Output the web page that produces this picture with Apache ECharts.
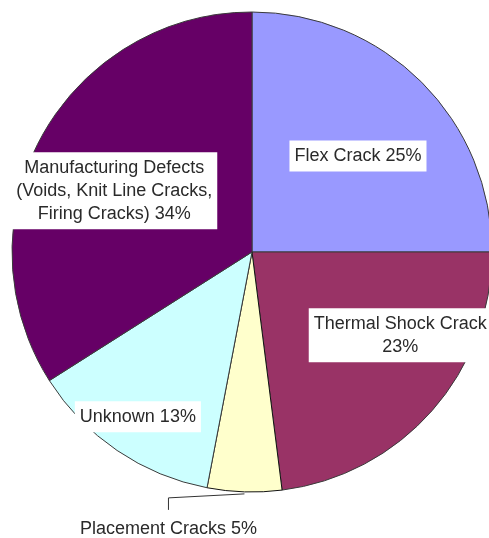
<!DOCTYPE html>
<html>
<head>
<meta charset="utf-8">
<script src="https://cdn.jsdelivr.net/npm/echarts@6/dist/echarts.min.js"></script>
<style>
html,body{margin:0;padding:0;background:#fff;}
#chart{width:489px;height:538px;}
</style>
</head>
<body>
<div id="chart"></div>
<script>
// Data
const categories = [
  'Flex Crack',
  'Thermal Shock Crack',
  'Placement Cracks',
  'Unknown',
  'Manufacturing Defects\n(Voids, Knit Line Cracks,\nFiring Cracks)'
];
const values = [25, 23, 5, 13, 34];
const sliceColors = ['#9999FF', '#993366', '#FFFFCC', '#CCFFFF', '#660066'];

// Label layout tweaks (layout only)
const labelShift = {
  'Flex Crack': { dx: 19, dy: -9 },
  'Thermal Shock Crack': { dx: 56, dy: 2 },
  'Unknown': { dx: -45, dy: 63 },
  'Manufacturing Defects\n(Voids, Knit Line Cracks,\nFiring Cracks)': { dx: -30, dy: -2 }
};
const outsideName = 'Placement Cracks';

const chart = echarts.init(document.getElementById('chart'), null, { renderer: 'canvas' });

const data = categories.map((name, i) => {
  const sep = name === 'Thermal Shock Crack' ? '\n' : ' ';
  const item = {
    name: name,
    value: values[i],
    itemStyle: { color: sliceColors[i] },
    label: { formatter: '{b}' + sep + '{d}%' }
  };
  if (name === outsideName) {
    item.itemStyle.borderColor = '#111';
    item.label = {
      position: 'outside',
      formatter: '{b} {d}%',
      backgroundColor: 'transparent',
      padding: 0
    };
    item.labelLine = { show: true, length: 4, length2: 70 };
  }
  return item;
});

chart.setOption({
  animation: false,
  series: [{
    type: 'pie',
    center: [252, 252],
    radius: [0, 240],
    startAngle: 90,
    clockwise: true,
    avoidLabelOverlap: false,
    itemStyle: { borderColor: '#3a3a3a', borderWidth: 1 },
    label: {
      show: true,
      position: 'inside',
      fontFamily: 'Liberation Sans, Arial, sans-serif',
      fontSize: 18,
      lineHeight: 23,
      color: '#2a2a2a',
      backgroundColor: '#ffffff',
      padding: [4, 5],
      align: 'center'
    },
    labelLine: {
      show: false,
      lineStyle: { color: '#333', width: 1 }
    },
    emphasis: { disabled: true },
    labelLayout: function (p) {
      const name = categories[p.dataIndex];
      if (name === outsideName) {
        const pts = p.labelLinePoints;
        if (!pts) return {};
        const start = [pts[0][0], pts[0][1] + 2];
        const corner = [start[0] - 76, start[1] + 4];
        const end = [corner[0], corner[1] + 12];
        return {
          x: corner[0],
          y: end[1] + 19,
          align: 'center',
          verticalAlign: 'middle',
          labelLinePoints: [start, corner, end]
        };
      }
      const s = labelShift[name];
      return s ? { dx: s.dx, dy: s.dy } : {};
    },
    data: data
  }]
});
</script>
</body>
</html>
